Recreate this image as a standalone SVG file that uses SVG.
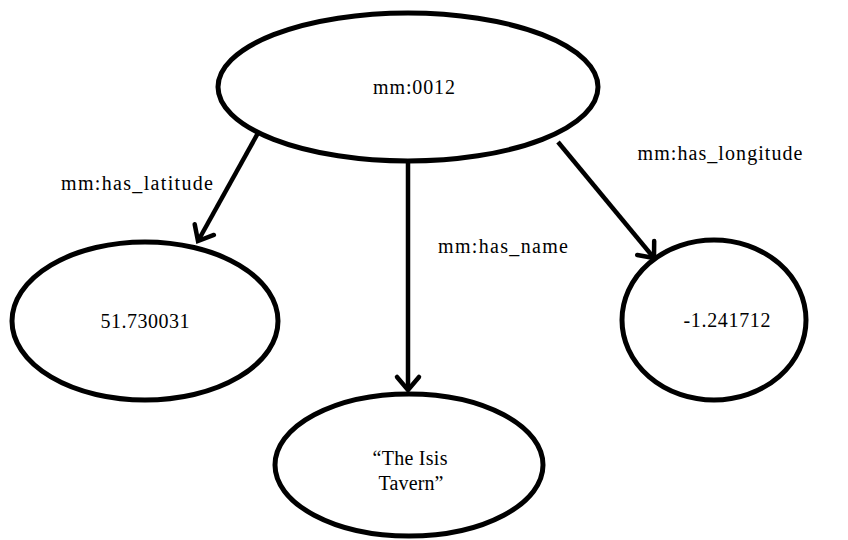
<svg xmlns="http://www.w3.org/2000/svg" width="848" height="540" viewBox="0 0 848 540">
<defs>
<style>
.node ellipse{fill:#fff;stroke:#000;stroke-width:5}
.lbl{font-family:"Liberation Serif","DejaVu Serif",serif;font-size:20px;fill:#000;text-anchor:middle}
.edge{stroke:#000;stroke-width:4.5;fill:none;marker-end:url(#arr)}
</style>
<marker id="arr" markerUnits="userSpaceOnUse" markerWidth="30" markerHeight="30" refX="20" refY="15" orient="auto" viewBox="0 0 30 30">
<path d="M7,4 L20,15 L7,26" fill="none" stroke="#000" stroke-width="4.5" stroke-linecap="round" stroke-linejoin="miter"/>
</marker>
</defs>
<rect width="848" height="540" fill="#fff"/>
<g id="edges">
<path class="edge" d="M258,133 L198,241"/>
<path class="edge" d="M408,163 L408,390"/>
<path class="edge" d="M558,142 L654,258"/>
<text class="lbl" x="137" y="190" textLength="152" lengthAdjust="spacing">mm:has_latitude</text>
<text class="lbl" x="503" y="253" textLength="130" lengthAdjust="spacing">mm:has_name</text>
<text class="lbl" x="720" y="160" textLength="165" lengthAdjust="spacing">mm:has_longitude</text>
</g>
<g id="n_mm0012" class="node">
<ellipse cx="408" cy="87" rx="190" ry="74"/>
<text class="lbl" x="414" y="94" textLength="82" lengthAdjust="spacing">mm:0012</text>
</g>
<g id="n_lat" class="node">
<ellipse cx="145" cy="321" rx="133" ry="79"/>
<text class="lbl" x="145" y="328" textLength="89" lengthAdjust="spacing">51.730031</text>
</g>
<g id="n_lon" class="node">
<ellipse cx="714" cy="320" rx="92" ry="80"/>
<text class="lbl" x="727" y="327" textLength="87" lengthAdjust="spacing">-1.241712</text>
</g>
<g id="n_name" class="node">
<ellipse cx="409" cy="465" rx="134" ry="71"/>
<text class="lbl" x="410" y="465" textLength="75" lengthAdjust="spacing">“The Isis</text>
<text class="lbl" x="411" y="490" textLength="65" lengthAdjust="spacing">Tavern”</text>
</g>
</svg>
